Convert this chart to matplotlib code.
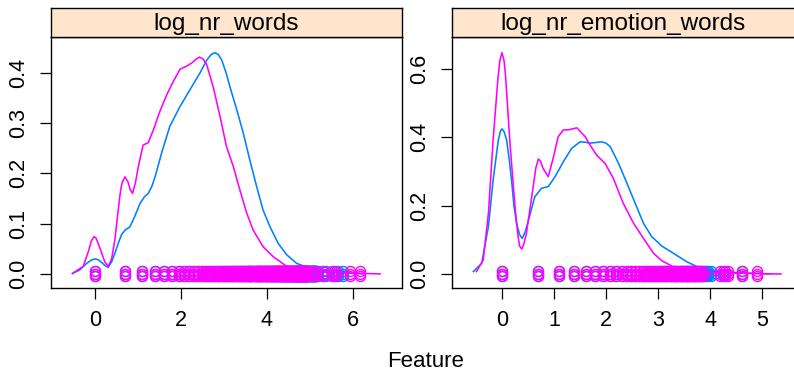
import numpy as np
import matplotlib
matplotlib.use("Agg")
import matplotlib.pyplot as plt
from matplotlib.transforms import offset_copy

plt.rcParams['font.family'] = ['Liberation Sans', 'DejaVu Sans']

BLUE = '#0080ff'
PINK = '#ff00ff'
STRIP = '#ffe5cc'

panel_titles = ['log_nr_words', 'log_nr_emotion_words']

# ---- density curves ----
# log_nr_words
words_blue_x = [-0.52, -0.35, -0.19, -0.09, 0.0, 0.08, 0.155, 0.23, 0.31, 0.39, 0.465, 0.54,
                0.62, 0.71, 0.81, 0.93, 1.05, 1.15, 1.24, 1.32, 1.40, 1.55, 1.74, 1.98,
                2.21, 2.44, 2.60, 2.70, 2.79, 2.87, 2.95, 3.05, 3.14, 3.30, 3.45, 3.60,
                3.76, 3.91, 4.07, 4.26, 4.46, 4.69, 5.0, 5.39, 5.8, 6.22]
words_blue_y = [0.001, 0.008, 0.021, 0.027, 0.030, 0.028, 0.023, 0.017, 0.013, 0.024, 0.041, 0.060,
                0.078, 0.088, 0.093, 0.115, 0.140, 0.153, 0.160, 0.173, 0.193, 0.240, 0.293, 0.333,
                0.366, 0.399, 0.425, 0.436, 0.440, 0.436, 0.425, 0.400, 0.372, 0.326, 0.280, 0.227,
                0.174, 0.127, 0.094, 0.061, 0.038, 0.021, 0.011, 0.0065, 0.003, 0.0]

words_pink_x = [-0.52, -0.27, -0.15, -0.08, -0.02, 0.03, 0.07, 0.11, 0.155, 0.23, 0.31, 0.39,
                0.465, 0.52, 0.58, 0.61, 0.64, 0.70, 0.77, 0.82, 0.875, 0.94, 1.01, 1.12,
                1.24, 1.36, 1.51, 1.67, 1.82, 1.98, 2.13, 2.25, 2.34, 2.43, 2.52, 2.60,
                2.75, 2.91, 3.06, 3.22, 3.37, 3.53, 3.68, 3.91, 4.15, 4.46, 4.77, 5.2,
                5.8, 6.2, 6.63]
words_pink_y = [0.001, 0.015, 0.045, 0.066, 0.074, 0.071, 0.062, 0.053, 0.042, 0.024, 0.015, 0.030,
                0.068, 0.110, 0.154, 0.172, 0.183, 0.193, 0.183, 0.168, 0.160, 0.180, 0.213, 0.256,
                0.261, 0.286, 0.323, 0.356, 0.382, 0.407, 0.413, 0.419, 0.426, 0.431, 0.427, 0.416,
                0.372, 0.313, 0.253, 0.213, 0.167, 0.121, 0.087, 0.054, 0.034, 0.015, 0.008, 0.004,
                0.002, 0.001, 0.0]

# log_nr_emotion_words
emo_blue_x = [-0.55, -0.39, -0.26, -0.17, -0.07, -0.03, 0.0, 0.04, 0.09, 0.14, 0.19, 0.23,
              0.28, 0.34, 0.39, 0.45, 0.51, 0.63, 0.76, 0.89, 1.02, 1.18, 1.34, 1.50,
              1.60, 1.69, 1.80, 1.92, 2.0, 2.08, 2.24, 2.40, 2.56, 2.72, 2.88, 3.07,
              3.29, 3.55, 3.81, 4.06, 4.5, 5.16]
emo_blue_y = [0.007, 0.031, 0.139, 0.275, 0.392, 0.418, 0.425, 0.417, 0.392, 0.335, 0.266, 0.200,
              0.148, 0.115, 0.104, 0.125, 0.158, 0.226, 0.251, 0.256, 0.285, 0.329, 0.368, 0.387,
              0.386, 0.383, 0.385, 0.387, 0.383, 0.373, 0.324, 0.266, 0.207, 0.148, 0.109, 0.082,
              0.061, 0.036, 0.017, 0.007, 0.004, 0.0]

emo_pink_x = [-0.49, -0.36, -0.26, -0.17, -0.08, -0.04, 0.0, 0.04, 0.07, 0.15, 0.25, 0.31,
              0.34, 0.38, 0.42, 0.47, 0.60, 0.65, 0.70, 0.74, 0.79, 0.89, 0.99, 1.08,
              1.18, 1.27, 1.44, 1.60, 1.69, 1.82, 1.98, 2.14, 2.33, 2.53, 2.72, 2.91,
              3.07, 3.29, 3.62, 4.0, 4.6, 5.36]
emo_pink_y = [0.007, 0.041, 0.178, 0.392, 0.568, 0.625, 0.648, 0.625, 0.578, 0.392, 0.197, 0.109,
              0.082, 0.073, 0.088, 0.119, 0.256, 0.310, 0.337, 0.330, 0.309, 0.285, 0.343, 0.402,
              0.422, 0.422, 0.428, 0.402, 0.378, 0.348, 0.324, 0.280, 0.207, 0.148, 0.104, 0.061,
              0.039, 0.021, 0.010, 0.004, 0.002, 0.0]

# ---- raw counts behind the rug (feature = log(count)) ----
words_blue_counts = list(range(1, 171)) + [181, 200, 215, 257, 284, 320]
words_pink_counts = list(range(1, 141)) + [155, 170, 200, 245, 270, 376, 473]
emo_blue_counts = list(range(1, 51)) + [52, 56, 70, 100]
emo_pink_counts = list(range(1, 43)) + [45, 48, 66, 72, 77, 100, 134]

panels = [
    dict(title=panel_titles[0],
         blue=(words_blue_x, words_blue_y, words_blue_counts),
         pink=(words_pink_x, words_pink_y, words_pink_counts),
         xlim=(-1.02, 7.14), ylim=(-0.028, 0.471),
         xticks=[0, 2, 4, 6], yticks=[0.0, 0.1, 0.2, 0.3, 0.4],
         rect=(51, 402)),
    dict(title=panel_titles[1],
         blue=(emo_blue_x, emo_blue_y, emo_blue_counts),
         pink=(emo_pink_x, emo_pink_y, emo_pink_counts),
         xlim=(-0.96, 5.63), ylim=(-0.041, 0.694),
         xticks=[0, 1, 2, 3, 4, 5], yticks=[0.0, 0.2, 0.4, 0.6],
         rect=(452, 795)),
]

W, H = 794, 376
fig = plt.figure(figsize=(W / 100, H / 100), dpi=100)

top, bottom, strip_top = 37, 288, 8
for p in panels:
    x0, x1 = p['rect']
    ax = fig.add_axes([x0 / W, (H - bottom) / H, (x1 - x0) / W, (bottom - top) / H])
    sax = fig.add_axes([x0 / W, (H - top) / H, (x1 - x0) / W, (top - strip_top) / H])

    for col, key in [(BLUE, 'blue'), (PINK, 'pink')]:
        dx, dy, counts = p[key]
        ax.plot(dx, dy, color=col, lw=1.15, solid_joinstyle='round')
        rug = np.log(np.array(counts, dtype=float))
        # small vertical jitter, drawn as fixed pixel offsets
        for off in (-2.5, 0, 2.5):
            tr = offset_copy(ax.transData, fig=fig, y=off, units='dots')
            ax.plot(rug, np.zeros_like(rug), 'o', mfc='none', mec=col, ms=7.2, mew=1.0,
                    transform=tr, clip_on=True)

    ax.set_xlim(*p['xlim'])
    ax.set_ylim(*p['ylim'])
    ax.set_xticks(p['xticks'])
    ax.set_xticklabels([str(t) for t in p['xticks']])
    ax.set_yticks(p['yticks'])
    ax.set_yticklabels([f'{t:.1f}' for t in p['yticks']], rotation=90, va='center')
    ax.tick_params(direction='out', length=8, width=0.9, pad=8, labelsize=15.5, colors='black')
    for s in ax.spines.values():
        s.set_linewidth(1.0)

    sax.set_facecolor(STRIP)
    sax.set_xticks([])
    sax.set_yticks([])
    for s in sax.spines.values():
        s.set_linewidth(1.0)
    sax.text(0.5, 0.45, p['title'], ha='center', va='center', fontsize=17.5,
             transform=sax.transAxes)

fig.text(426 / W, (H - 367) / H, 'Feature', ha='center', va='baseline', fontsize=16)

fig.savefig('out.png', dpi=100)
